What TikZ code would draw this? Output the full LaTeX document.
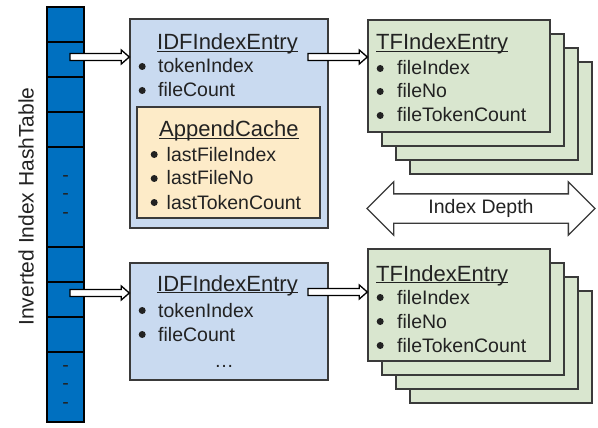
\documentclass[tikz,border=0pt]{standalone}
\usepackage{fontspec}
\setmainfont{Liberation Sans}
\usetikzlibrary{shapes.arrows,calc}
\definecolor{hashblue}{HTML}{0070C0}
\definecolor{idfblue}{HTML}{C9DAF0}
\definecolor{cachepeach}{HTML}{FDEBC8}
\definecolor{tfgreen}{HTML}{D9E6CF}
\definecolor{boxline}{HTML}{3A3A3A}
\definecolor{textgray}{HTML}{222222}
% bullet of a given box width, underlined title
\newcommand{\bul}[1]{\makebox[#1][l]{\raisebox{3pt}{\tikz\fill (0,0) circle (3.5pt);}}}
\newcommand{\ulined}[1]{\setbox0\hbox{#1}\rlap{\rule[-2.2pt]{\wd0}{1.3pt}}\box0}
\begin{document}
\begin{tikzpicture}[x=1pt,y=-1pt,
    cell/.style={rectangle,draw=black,line width=1.5pt,fill=hashblue,minimum width=37pt,inner sep=0pt},
    idfbox/.style={rectangle,draw=boxline,line width=1.4pt,fill=idfblue,minimum width=198pt,inner sep=0pt},
    cachebox/.style={rectangle,draw=boxline,line width=1.4pt,fill=cachepeach,inner sep=0pt},
    tfbox/.style={rectangle,draw=boxline,line width=1.4pt,fill=tfgreen,minimum width=182pt,minimum height=112pt,inner sep=0pt},
    txt/.style={anchor=base west,inner sep=0pt,text=textgray,font=\fontsize{19.5}{23}\selectfont},
    ttl/.style={txt,font=\fontsize{22}{26}\selectfont},
    fat/.style={draw=black,fill=white,line width=1.3pt,
        to path={let \p1=(\tikztostart), \p2=(\tikztotarget) in
            (\x1,\y1+3.5pt) -- (\x2-8pt,\y1+3.5pt) -- (\x2-8pt,\y1+7pt) -- (\x2,\y1)
            -- (\x2-8pt,\y1-7pt) -- (\x2-8pt,\y1-3.5pt) -- (\x1,\y1-3.5pt) -- cycle}}]
\useasboundingbox (0,0) rectangle (598,428);

% hash table
\node[rotate=90,text=textgray,font=\fontsize{21}{25}\selectfont] (htlabel) at (26,206.5) {Inverted Index HashTable};
\foreach \ya/\yb [count=\i] in {7/42,42/77,77/112,112/147,147/247,247/282,282/317,317/352,352/422}
    \node[cell,minimum height={(\yb-\ya)*1pt}] (h\i) at (65.5,{(\ya+\yb)/2}) {};
\node[align=center,inner sep=0pt,text=textgray,font=\fontsize{19.5}{18.5}\selectfont] (dots1) at (h5) {-\\-\\-};
\node[align=center,inner sep=0pt,text=textgray,font=\fontsize{19.5}{18.5}\selectfont] (dots2) at (h9) {-\\-\\-};

% upper entry
\node[idfbox,minimum height=209pt] (idf1) at (229,123.5) {};
\node[ttl] (idf1ttl) at (157,50) {\ulined{IDFIndexEntry}};
\node[txt] (idf1a) at (138.5,73) {\bul{19.5pt}tokenIndex};
\node[txt] (idf1b) at (138.5,97) {\bul{19.5pt}fileCount};
\node[cachebox,minimum width=183pt,minimum height=111pt] (cache) at (228.5,162.5) {};
\node[ttl] (cachettl) at (159,137) {\ulined{AppendCache}};
\node[txt] (cachea) at (150.5,161) {\bul{16pt}lastFileIndex};
\node[txt] (cacheb) at (150.5,185) {\bul{16pt}lastFileNo};
\node[txt] (cachec) at (150.5,209) {\bul{16pt}lastTokenCount};

\foreach \k in {3,2,1,0}
    \node[tfbox] (tf1\k) at ({459+14*\k},{76+14*\k}) {};
\node[ttl] (tf1ttl) at (376,50) {\ulined{TFIndexEntry}};
\node[txt] (tf1a) at (376.5,75) {\bul{20.5pt}fileIndex};
\node[txt] (tf1b) at (376.5,98) {\bul{20.5pt}fileNo};
\node[txt] (tf1c) at (376.5,122) {\bul{20.5pt}fileTokenCount};

% lower entry
\node[idfbox,minimum height=117pt] (idf2) at (229,321.5) {};
\node[ttl] (idf2ttl) at (157,291) {\ulined{IDFIndexEntry}};
\node[txt] (idf2a) at (138.5,317) {\bul{19.5pt}tokenIndex};
\node[txt] (idf2b) at (138.5,341) {\bul{19.5pt}fileCount};
\node[txt,anchor=base] (idf2c) at (224,367) {…};

\foreach \k in {3,2,1,0}
    \node[tfbox] (tf2\k) at ({459+14*\k},{305+14*\k}) {};
\node[ttl] (tf2ttl) at (376,281) {\ulined{TFIndexEntry}};
\node[txt] (tf2a) at (376.5,304) {\bul{20.5pt}fileIndex};
\node[txt] (tf2b) at (376.5,328) {\bul{20.5pt}fileNo};
\node[txt] (tf2c) at (376.5,352) {\bul{20.5pt}fileTokenCount};

% depth
\node[double arrow,draw=boxline,line width=1.3pt,fill=white,minimum height=228pt,
    double arrow head extend=12pt,inner xsep=0pt,inner ysep=5pt,text height=14pt,text depth=4pt,
    text=textgray,font=\fontsize{19.5}{23}\selectfont] (depth) at (481,208.5) {Index Depth};

% pointers
\coordinate (src1) at (70,57);
\coordinate (src2) at (70,293);
\coordinate (mid1) at (308,57);
\coordinate (mid2) at (308,292);
\draw[fat] (src1) to (idf1.west |- src1);
\draw[fat] (src2) to (idf2.west |- src2);
\draw[fat] (mid1) to (tf10.west |- mid1);
\draw[fat] (mid2) to (tf20.west |- mid2);
\end{tikzpicture}
\end{document}
